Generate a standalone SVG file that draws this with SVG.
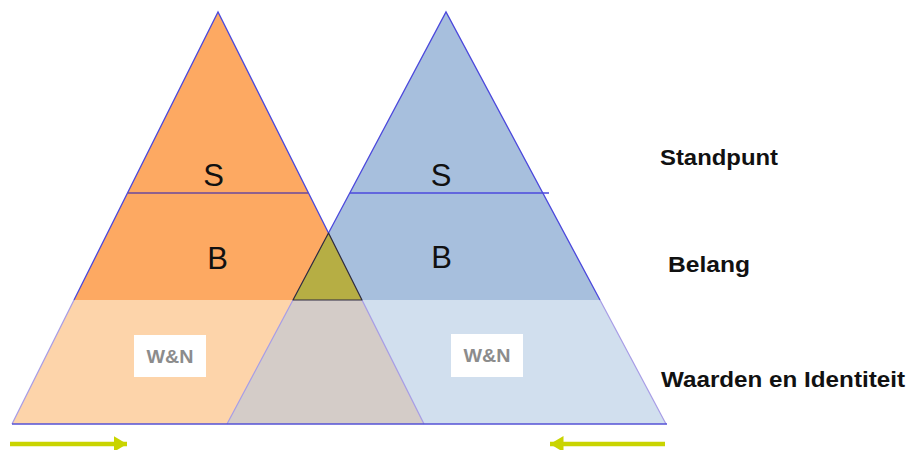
<svg xmlns="http://www.w3.org/2000/svg" width="907" height="450" viewBox="0 0 907 450">
<style>
.edge{stroke:#4B48DC;stroke-width:1.3;fill:none}
.soft{stroke:#A79CE6;stroke-width:1.2;fill:none}
.big{font-family:"Liberation Sans",Arial,sans-serif;font-size:31px;fill:#111;text-anchor:middle}
.lbl{font-family:"Liberation Sans",Arial,sans-serif;font-weight:bold;font-size:22px;fill:#111}
.wn{font-family:"Liberation Sans",Arial,sans-serif;font-weight:bold;font-size:19px;fill:#8C8C8C;text-anchor:middle}
.arrow{stroke:#C9D400;stroke-width:4.5;fill:none}
</style>
<defs>
<marker id="head" markerWidth="4" markerHeight="4" refX="3" refY="2" orient="auto" markerUnits="strokeWidth">
<path d="M0,0.2 L3,2 L0,3.8 Z" fill="#C9D400"/>
</marker>
</defs>
<rect width="907" height="450" fill="#ffffff"/>
<g id="bottom-left">
<polygon points="74,300 362,300 424,424 12,424" fill="#FDD4AA"/>
<line class="soft" x1="74" y1="300" x2="12" y2="424"/>
</g>
<g id="bottom-right">
<polygon points="293,300 600,300 666,424 227,424" fill="#D1DFEE"/>
<line class="soft" x1="600" y1="300" x2="666" y2="424"/>
</g>
<g id="overlap-bottom">
<polygon points="293,300 362,300 424,424 227,424" fill="#D4CCC8"/>
<line class="soft" x1="293" y1="300" x2="227" y2="424"/>
<line class="soft" x1="362" y1="300" x2="424" y2="424"/>
</g>
<g id="left-triangle">
<polygon points="218,12 74,300 362,300" fill="#FDA962"/>
<path class="edge" d="M74,300 L218,12 L328.5,233"/>
<line x1="128" y1="193" x2="308" y2="193" stroke="#6A4A9C" stroke-width="1.5"/>
<text class="big" x="213.5" y="186">S</text>
<text class="big" x="217.5" y="269">B</text>
</g>
<g id="right-triangle">
<polygon points="446,12 293,300 600,300" fill="#A7BFDD"/>
<path class="edge" d="M328.5,233 L446,12 L600,300"/>
<line x1="350" y1="193" x2="549" y2="193" stroke="#4B48DC" stroke-width="1.5"/>
<text class="big" x="441" y="186">S</text>
<text class="big" x="441.5" y="268">B</text>
</g>
<g id="overlap">
<polygon points="328.5,233 293,300 362,300" fill="#B6AE44" stroke="#2E2A40" stroke-width="1.2" stroke-linejoin="round"/>
</g>
<g id="base">
<line x1="12" y1="424" x2="667" y2="424" stroke="#5552D6" stroke-width="1.6"/>
</g>
<g id="wn-left">
<rect x="134" y="335" width="72" height="42" fill="#ffffff"/>
<text class="wn" x="170" y="363" textLength="47" lengthAdjust="spacingAndGlyphs">W&amp;N</text>
</g>
<g id="wn-right">
<rect x="451" y="334" width="72" height="43" fill="#ffffff"/>
<text class="wn" x="487" y="362" textLength="47" lengthAdjust="spacingAndGlyphs">W&amp;N</text>
</g>
<g id="labels">
<text class="lbl" x="660" y="165" textLength="118" lengthAdjust="spacingAndGlyphs">Standpunt</text>
<text class="lbl" x="668" y="272" textLength="82" lengthAdjust="spacingAndGlyphs">Belang</text>
<text class="lbl" x="661" y="387" textLength="244" lengthAdjust="spacingAndGlyphs">Waarden en Identiteit</text>
</g>
<g id="connectors">
<line class="arrow" x1="10" y1="444" x2="127" y2="444" marker-end="url(#head)"/>
<line class="arrow" x1="665" y1="444" x2="550" y2="444" marker-end="url(#head)"/>
</g>
</svg>
